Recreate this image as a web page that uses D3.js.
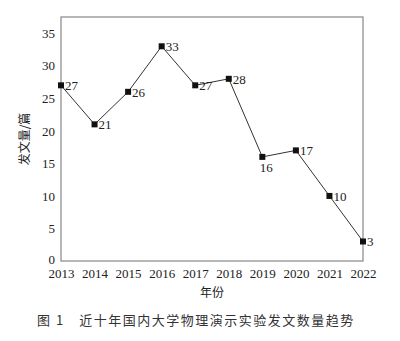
<!DOCTYPE html>
<html>
<head>
<meta charset="utf-8">
<script src="https://cdn.jsdelivr.net/npm/d3@7"></script>
<style>
  body { margin: 0; background: #fff; }
  svg { display: block; }
</style>
</head>
<body>
<svg id="chart"></svg>
<script>
const width = 400;
const height = 341;

const years = [2013, 2014, 2015, 2016, 2017, 2018, 2019, 2020, 2021, 2022];
const counts = [27, 21, 26, 33, 27, 28, 16, 17, 10, 3];
const yTicks = [0, 5, 10, 15, 20, 25, 30, 35];

const svg = d3.select("#chart")
  .attr("width", width)
  .attr("height", height);

const margin = { top: 17, right: 37, bottom: 80, left: 61 };
const plotW = width - margin.left - margin.right;
const plotH = height - margin.top - margin.bottom;

const x = d3.scalePoint()
  .domain(years)
  .range([0, plotW]);

const y = d3.scaleLinear()
  .domain([0, 37.5])
  .range([plotH, 0]);

const serif = "'Liberation Serif', 'Times New Roman', serif";
const cjk = "'Noto Sans CJK SC', sans-serif";

const g = svg.append("g")
  .attr("transform", `translate(${margin.left},${margin.top})`);

// frame
g.append("rect")
  .attr("width", plotW)
  .attr("height", plotH)
  .attr("fill", "none")
  .attr("stroke", "#888")
  .attr("stroke-width", 1.2);

const yAxis = g.append("g")
  .call(d3.axisLeft(y).tickValues(yTicks).tickSize(0).tickPadding(6));
yAxis.select(".domain").remove();
yAxis.selectAll("text")
  .attr("font-family", serif)
  .attr("font-size", 13)
  .attr("fill", "#222");
yAxis.selectAll(".tick text").filter(d => d === 0).attr("dy", "0.2em");

const xAxis = g.append("g")
  .attr("transform", `translate(0,${plotH})`)
  .call(d3.axisBottom(x).tickSize(0).tickPadding(8).tickFormat(d3.format("d")));
xAxis.select(".domain").remove();
xAxis.selectAll("text")
  .attr("font-family", serif)
  .attr("font-size", 13)
  .attr("fill", "#222");

const line = d3.line()
  .x((d, i) => x(years[i]))
  .y(d => y(d));

g.append("path")
  .datum(counts)
  .attr("fill", "none")
  .attr("stroke", "#333")
  .attr("stroke-width", 1)
  .attr("d", line);

g.selectAll("rect.pt")
  .data(counts)
  .join("rect")
  .attr("class", "pt")
  .attr("x", (d, i) => x(years[i]) - 3)
  .attr("y", d => y(d) - 3)
  .attr("width", 6)
  .attr("height", 6)
  .attr("fill", "#111");

g.selectAll("text.lbl")
  .data(counts)
  .join("text")
  .attr("class", "lbl")
  .attr("x", (d, i) => x(years[i]) + 4)
  .attr("y", (d, i) => years[i] === 2019 ? y(d) + 15 : y(d) + 5)
  .attr("text-anchor", (d, i) => years[i] === 2019 ? "middle" : "start")
  .attr("font-family", serif)
  .attr("font-size", 13)
  .attr("fill", "#222")
  .text(d => d);

// axis titles
svg.append("text")
  .attr("transform", `translate(29,${margin.top + plotH / 2}) rotate(-90)`)
  .attr("text-anchor", "middle")
  .attr("font-family", cjk)
  .attr("font-size", 12)
  .attr("fill", "#222")
  .text("发文量/篇");

svg.append("text")
  .attr("x", margin.left + plotW / 2)
  .attr("y", 297)
  .attr("text-anchor", "middle")
  .attr("font-family", cjk)
  .attr("font-size", 12)
  .attr("fill", "#222")
  .text("年份");

svg.append("text")
  .attr("x", 37)
  .attr("y", 325)
  .attr("font-family", cjk)
  .attr("font-size", 13)
  .attr("letter-spacing", 1.5)
  .attr("fill", "#333")
  .text("图 1　近十年国内大学物理演示实验发文数量趋势");
</script>
</body>
</html>
